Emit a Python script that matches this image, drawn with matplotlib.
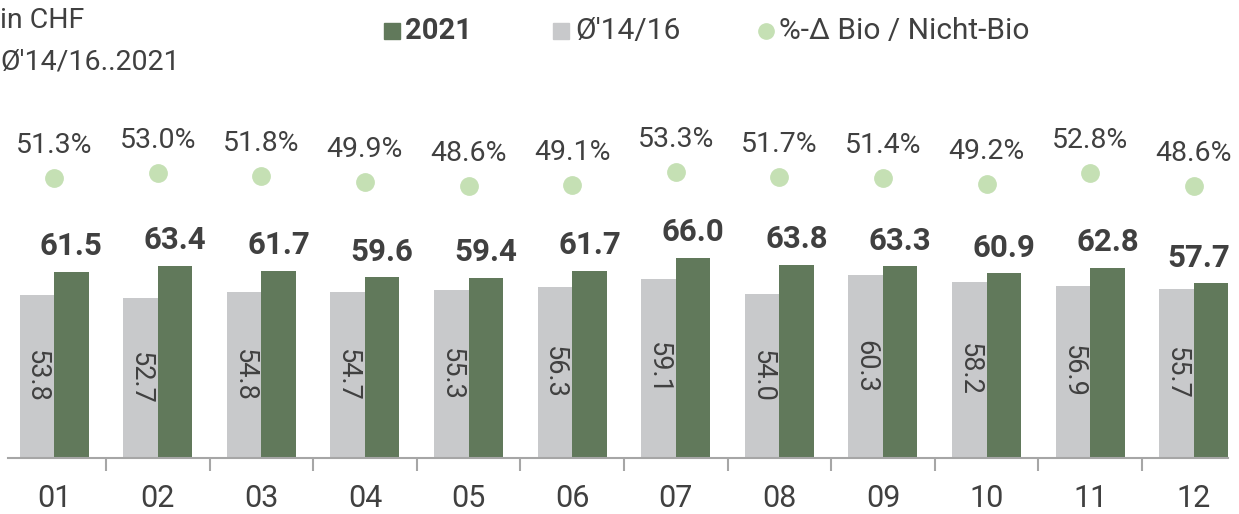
import matplotlib.pyplot as plt
from matplotlib.lines import Line2D

plt.rcParams['font.family'] = ['Roboto', 'DejaVu Sans']

# data
months = ['01', '02', '03', '04', '05', '06', '07', '08', '09', '10', '11', '12']
val_2021 = [61.5, 63.4, 61.7, 59.6, 59.4, 61.7, 66.0, 63.8, 63.3, 60.9, 62.8, 57.7]
avg_1416 = [53.8, 52.7, 54.8, 54.7, 55.3, 56.3, 59.1, 54.0, 60.3, 58.2, 56.9, 55.7]
pct_delta = [51.3, 53.0, 51.8, 49.9, 48.6, 49.1, 53.3, 51.7, 51.4, 49.2, 52.8, 48.6]

GREEN = '#61795b'
GREY = '#c8c9cb'
DOT = '#c5e0b4'
TXT = '#404040'
AXC = '#a6a6a6'

W, H = 1239, 514
fig = plt.figure(figsize=(W / 100, H / 100), dpi=100)
# axes: x 8..1228 px, baseline at y=458 px, top at y=100 px
ax = fig.add_axes([8 / W, (H - 458) / H, 1220 / W, 358 / H])
ax2 = ax.twinx()

x = list(range(len(months)))
bw = 0.333
ax.bar([i - bw / 2 for i in x], avg_1416, width=bw, color=GREY)
ax.bar([i + bw / 2 for i in x], val_2021, width=bw, color=GREEN)
ax.set_xlim(-0.445, 11.33)
ax.set_ylim(0, 358 / 3.03)

for i in x:
    ax.text(i - bw / 2, avg_1416[i] / 2, f'{avg_1416[i]:.1f}', rotation=270,
            ha='center', va='center', fontsize=19.5, color=TXT)
    # last label is pushed left so it stays inside the figure
    dx = -9 if i == x[-1] else 0
    ax.annotate(f'{val_2021[i]:.1f}', (i + bw / 2, val_2021[i]), xytext=(dx, 12),
                textcoords='offset points', ha='center', va='baseline',
                fontsize=22.5, fontweight='bold', color=TXT)

# secondary axis for the percent dots
ax2.plot(x, pct_delta, 'o', color=DOT, markersize=12.5, linestyle='none')
ax2.set_ylim(48.6 - (458 - 186) / 2.98, 48.6 + (186 - 100) / 2.98)
for i in x:
    ax2.annotate(f'{pct_delta[i]:.1f}%', (i, pct_delta[i]), xytext=(0, 18),
                 textcoords='offset points', ha='center', va='baseline',
                 fontsize=20.5, color=TXT)

for a in (ax, ax2):
    for s in ('top', 'right', 'left'):
        a.spines[s].set_visible(False)
    a.set_yticks([])
ax.spines['bottom'].set_color(AXC)
ax.spines['bottom'].set_linewidth(1.5)
ax2.spines['bottom'].set_visible(False)

ax.set_xticks(x)
ax.set_xticklabels(months, fontsize=22, color=TXT)
ax.tick_params(axis='x', which='major', length=0, pad=19)
ax.set_xticks([i + 0.5 for i in x[:-1]], minor=True)
ax.tick_params(axis='x', which='minor', length=9, width=1.5, color=AXC)

# header texts
fig.text(0, 1 - 20 / H, 'in CHF', fontsize=20.5, color=TXT, va='center', ha='left')
fig.text(0, 1 - 62 / H, "Ø'14/16..2021", fontsize=20.5, color=TXT, va='center', ha='left')

# legend
ly = 1 - 31 / H
fig.add_artist(Line2D([392 / W], [ly], marker='s', markersize=11, color=GREEN,
                      linestyle='none', transform=fig.transFigure))
fig.text(405 / W, ly, '2021', fontsize=21, fontweight='bold', color=TXT, va='center')
fig.add_artist(Line2D([561 / W], [ly], marker='s', markersize=11, color=GREY,
                      linestyle='none', transform=fig.transFigure))
fig.text(575 / W, ly, "Ø'14/16", fontsize=21.5, color=TXT, va='center')
fig.add_artist(Line2D([766 / W], [ly], marker='o', markersize=11, color=DOT,
                      linestyle='none', transform=fig.transFigure))
fig.text(779 / W, ly, '%-\u0394 Bio / Nicht-Bio', fontsize=21.5, color=TXT, va='center')

fig.savefig('out.png', dpi=100)
